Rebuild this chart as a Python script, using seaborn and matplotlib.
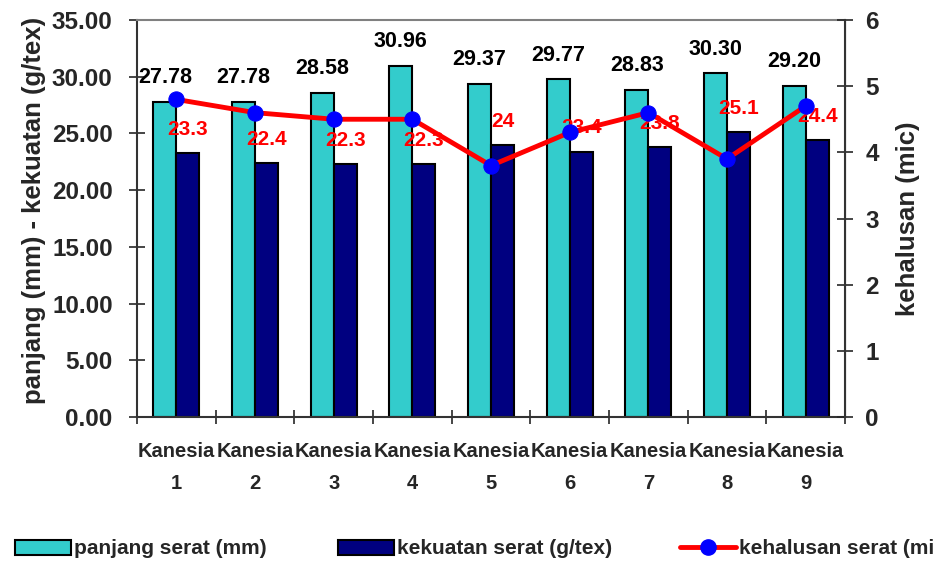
import numpy as np
import pandas as pd
import seaborn as sns
import matplotlib.pyplot as plt
from matplotlib.lines import Line2D

# data
kanesia = ['Kanesia\n1', 'Kanesia\n2', 'Kanesia\n3', 'Kanesia\n4', 'Kanesia\n5',
           'Kanesia\n6', 'Kanesia\n7', 'Kanesia\n8', 'Kanesia\n9']
panjang = [27.78, 27.78, 28.58, 30.96, 29.37, 29.77, 28.83, 30.30, 29.20]
kekuatan = [23.3, 22.4, 22.3, 22.3, 24.0, 23.4, 23.8, 25.1, 24.4]
kehalusan = [4.8, 4.6, 4.5, 4.5, 3.8, 4.3, 4.6, 3.9, 4.7]

seri = ['panjang serat (mm)', 'kekuatan serat (g/tex)', 'kehalusan serat (mic)']

sns.set_style('ticks')
plt.rcParams['font.family'] = ['Liberation Sans', 'DejaVu Sans']

# long table for the grouped bars
df = pd.DataFrame({
    'kanesia': kanesia * 2,
    'seri': [seri[0]] * 9 + [seri[1]] * 9,
    'nilai': panjang + kekuatan,
})

fig = plt.figure(figsize=(9.34, 5.63), dpi=100)
ax = fig.add_axes([137 / 934, 1 - 417 / 563, 708 / 934, 397 / 563])

sns.barplot(data=df, x='kanesia', y='nilai', hue='seri', palette=['#33CCCC', '#000080'],
            width=0.585, edgecolor='black', linewidth=1.5, errorbar=None, saturation=1, ax=ax)
bar_handles, bar_labels = ax.get_legend_handles_labels()
ax.get_legend().remove()

# value labels above the bars
for patch, v in zip(ax.containers[0], panjang):
    ax.annotate(f'{v:.2f}', (patch.get_x() + patch.get_width() / 2, patch.get_height()),
                xytext=(0, 17.5), textcoords='offset points', ha='center', va='center',
                fontsize=15.5, fontweight='bold', color='black')
for patch, v in zip(ax.containers[1], kekuatan):
    ax.annotate(f'{v:g}', (patch.get_x() + patch.get_width() / 2, patch.get_height()),
                xytext=(0, 17), textcoords='offset points', ha='center', va='center',
                fontsize=15, fontweight='bold', color='red')

ax.set_ylim(0, 35)
ax.set_yticks(np.arange(0, 36, 5))
ax.set_yticklabels([f'{t:.2f}' for t in np.arange(0, 36, 5)])
ax.set_xlim(-0.5, 8.5)
ax.set_xlabel('')
ax.set_ylabel('panjang (mm) - kekuatan (g/tex)', fontsize=18.5, fontweight='bold')
ax.yaxis.set_label_coords(-0.128, 0.52)
ax.tick_params(axis='y', direction='inout', length=11, width=1.2, pad=12, labelsize=17.5)
for t in ax.get_yticklabels():
    t.set_fontweight('bold')
ax.tick_params(axis='x', which='major', length=0, pad=18)
ax.set_xticks(np.arange(-0.5, 9, 1), minor=True)
ax.tick_params(axis='x', which='minor', direction='inout', length=10, width=1.2)
for t in ax.get_xticklabels():
    t.set_fontweight('bold')
    t.set_fontsize(14.5)
    t.set_linespacing(1.85)

for s in ['left', 'bottom']:
    ax.spines[s].set_color('#333333')
    ax.spines[s].set_linewidth(1.5)
ax.spines['top'].set_visible(True)
ax.spines['top'].set_color('#808080')
ax.spines['top'].set_linewidth(1.5)

# kehalusan on the secondary axis
ax2 = ax.twinx()
sns.lineplot(x=np.arange(len(kehalusan)), y=kehalusan, ax=ax2, color='red', linewidth=3.5,
             marker='o', markersize=11, markerfacecolor='blue', markeredgecolor='blue',
             label=seri[2], legend=False, zorder=5)
ax2.set_ylim(0, 6)
ax2.set_yticks(range(0, 7))
ax2.tick_params(axis='y', direction='inout', length=11, width=1.2, pad=9, labelsize=17.5)
for t in ax2.get_yticklabels():
    t.set_fontweight('bold')
ax2.set_ylabel('kehalusan (mic)', fontsize=18.5, fontweight='bold', rotation=90)
ax2.yaxis.set_label_coords(1.072, 0.5)
ax2.spines['right'].set_color('#333333')
ax2.spines['right'].set_linewidth(1.5)
ax2.spines['top'].set_visible(False)
ax2.spines['left'].set_visible(False)
ax2.spines['bottom'].set_visible(False)

# legend along the bottom, one block per series
line_handle = Line2D([], [], color='red', linewidth=3.5, marker='o', markersize=11,
                     markerfacecolor='blue', markeredgecolor='blue')
handles = [bar_handles[0], bar_handles[1], line_handle]
starts = [15, 338, 680]
for h, lab, x0 in zip(handles, seri, starts):
    fig.legend([h], [lab], loc='center left', bbox_to_anchor=(x0 / 934, 1 - 549 / 563),
               frameon=False, borderpad=0, borderaxespad=0, handlelength=2.7,
               handleheight=0.7, handletextpad=0.15,
               prop={'weight': 'bold', 'size': 15})

fig.savefig('out.png', dpi=100)
